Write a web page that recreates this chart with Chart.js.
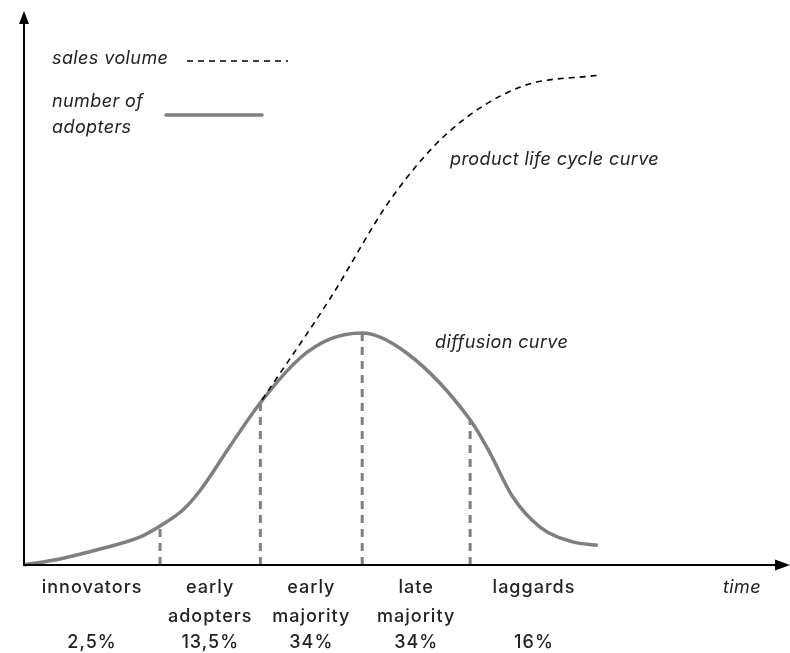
<!DOCTYPE html>
<html lang="en">
<head>
    <meta charset="UTF-8">
    <title>Diffusion of Innovations</title>
    <script src="https://cdn.jsdelivr.net/npm/chart.js"></script>
    <style>
        body { margin: 0; background: #fff; }
        #wrap { width: 790px; height: 653px; }
    </style>
</head>
<body>
    <div id="wrap"><canvas id="diffusionChart" width="790" height="653"></canvas></div>
    <script>
        // Adopter groups and their share of the market
        const groups = [['innovators'], ['early', 'adopters'], ['early', 'majority'], ['late', 'majority'], ['laggards']];
        const shares = ['2,5%', '13,5%', '34%', '34%', '16%'];

        // Group boundaries on the time axis, and the curve height there
        const boundaryTime = [17.9, 31.1, 44.5, 58.7];
        const boundaryValue = [7.1, 29.5, 42.2, 26.4];

        // Number of adopters over time (diffusion curve)
        const diffusionTime = [0, 4.7, 10, 15.3, 17.9, 20.9, 23.2, 27.1, 31.1, 36.3, 40.3, 44.5, 50.4, 58.7, 61.3, 64.3, 67.9, 72.2, 75.5];
        const diffusionValue = [0, 1.1, 2.9, 5.1, 7.1, 10, 13.6, 21.6, 29.5, 37.6, 41.1, 42.2, 38.5, 26.4, 20.4, 12.4, 6.9, 4.2, 3.6];

        // Cumulative sales volume (product life cycle curve)
        const salesTime = [31.3, 40.3, 48.2, 55.7, 65.3, 75.8];
        const salesValue = [30, 48.5, 66.4, 78.5, 86.9, 89.1];

        const FONT = 'Inter, "DejaVu Sans", sans-serif';
        const GREY = '#7f7f7f';
        const INK = '#222';

        const toPoints = (xs, ys) => xs.map((x, i) => ({ x: x, y: ys[i] }));

        const datasets = [];
        boundaryTime.forEach((t, i) => {
            datasets.push({
                data: [{ x: t, y: 0 }, { x: t, y: boundaryValue[i] }],
                borderColor: GREY,
                borderWidth: 3,
                borderDash: [8, 6],
                pointRadius: 0,
                showLine: true,
                clip: false
            });
        });
        datasets.push({
            data: toPoints(salesTime, salesValue),
            borderColor: '#000',
            borderWidth: 1.6,
            borderDash: [6, 5],
            pointRadius: 0,
            showLine: true,
            cubicInterpolationMode: 'monotone',
            clip: false
        });
        datasets.push({
            data: toPoints(diffusionTime, diffusionValue),
            borderColor: GREY,
            borderWidth: 3.5,
            pointRadius: 0,
            showLine: true,
            cubicInterpolationMode: 'monotone',
            clip: false
        });

        // Axes with arrow heads, legend and group labels
        const decorations = {
            id: 'decorations',
            afterDraw(chart) {
                const ctx = chart.ctx;
                const xs = chart.scales.x, ys = chart.scales.y;
                const x0 = xs.getPixelForValue(0), y0 = ys.getPixelForValue(0);
                ctx.save();
                ctx.strokeStyle = '#000';
                ctx.fillStyle = '#000';
                ctx.lineWidth = 2;
                ctx.beginPath();
                ctx.moveTo(x0, 20);
                ctx.lineTo(x0, y0);
                ctx.lineTo(778, y0);
                ctx.stroke();
                ctx.beginPath();
                ctx.moveTo(x0, 11); ctx.lineTo(x0 - 5, 24); ctx.lineTo(x0 + 5, 24);
                ctx.closePath(); ctx.fill();
                ctx.beginPath();
                ctx.moveTo(790, y0); ctx.lineTo(775, y0 - 5.5); ctx.lineTo(775, y0 + 5.5);
                ctx.closePath(); ctx.fill();

                // legend and curve names
                ctx.fillStyle = INK;
                ctx.font = 'italic 18px ' + FONT;
                ctx.letterSpacing = '0.4px';
                ctx.textBaseline = 'middle';
                ctx.textAlign = 'left';
                ctx.fillText('sales volume', 52, 59);
                ctx.fillText('number of', 52, 102);
                ctx.fillText('adopters', 52, 128);
                ctx.fillText('product life cycle curve', 450, 160);
                ctx.fillText('diffusion curve', 435, 343);
                ctx.fillText('time', 723, 588);

                ctx.strokeStyle = '#000';
                ctx.lineWidth = 1.6;
                ctx.setLineDash([6, 5]);
                ctx.beginPath(); ctx.moveTo(187, 61); ctx.lineTo(288, 61); ctx.stroke();
                ctx.setLineDash([]);
                ctx.strokeStyle = GREY;
                ctx.lineWidth = 3.5;
                ctx.lineCap = 'round';
                ctx.beginPath(); ctx.moveTo(166, 115); ctx.lineTo(262, 115); ctx.stroke();

                // group names and shares, centred between boundaries
                const edges = [0].concat(boundaryTime, [diffusionTime[diffusionTime.length - 1]]);
                ctx.font = '500 18px ' + FONT;
                ctx.letterSpacing = '1px';
                ctx.textAlign = 'center';
                groups.forEach((lines, i) => {
                    const cx = (xs.getPixelForValue(edges[i]) + xs.getPixelForValue(edges[i + 1])) / 2;
                    lines.forEach((line, j) => ctx.fillText(line, cx, 588 + j * 29));
                    ctx.fillText(shares[i], cx, 643);
                });
                ctx.restore();
            }
        };

        new Chart(document.getElementById('diffusionChart'), {
            type: 'scatter',
            data: { datasets: datasets },
            options: {
                responsive: false,
                animation: false,
                layout: { padding: { left: 24, right: 6, top: 15, bottom: 88 } },
                plugins: { legend: { display: false }, tooltip: { enabled: false } },
                scales: {
                    x: { type: 'linear', min: 0, max: 100, display: false },
                    y: { type: 'linear', min: 0, max: 100, display: false }
                }
            },
            plugins: [decorations]
        });
    </script>
</body>
</html>
